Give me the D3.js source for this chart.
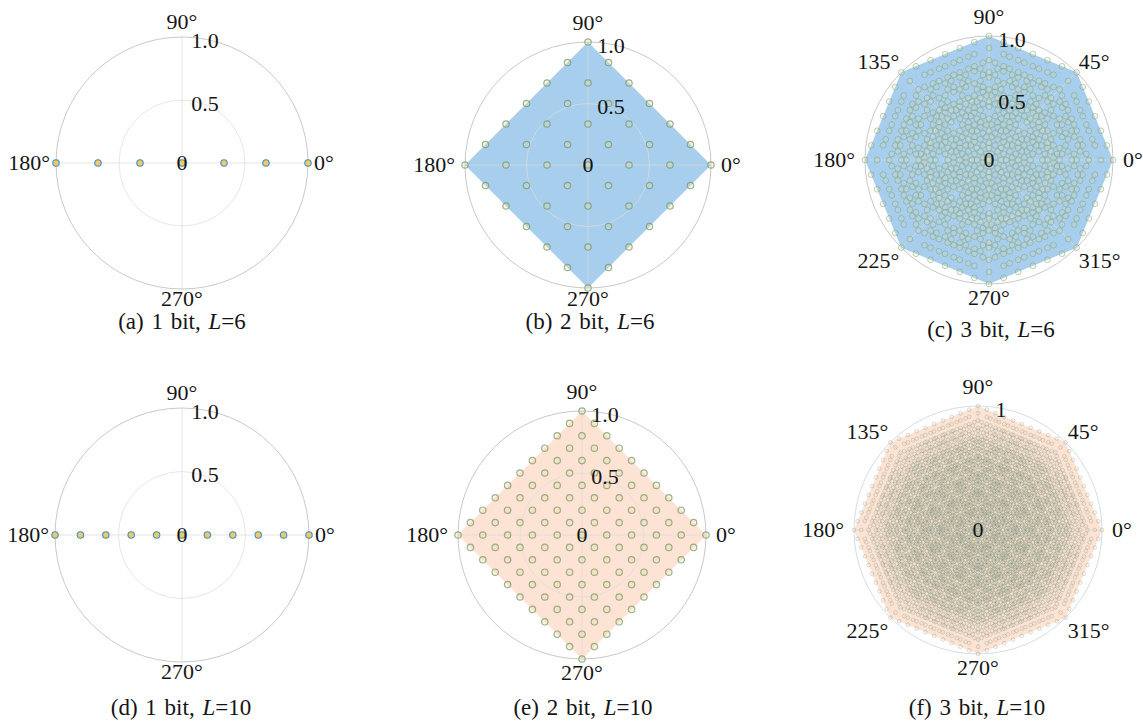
<!DOCTYPE html>
<html><head><meta charset="utf-8">
<script src="https://cdn.jsdelivr.net/npm/d3@7"></script>
<style>
body{margin:0;background:#fff;}
svg text{font-family:"Liberation Serif","Times New Roman",serif;fill:#151515;}
</style></head><body>
<svg id="chart" width="1143" height="724"></svg>
<script>
// Quantised phase alphabets (degrees) for each bit depth
const phases1bit = [0, 180];
const phases2bit = [0, 90, 180, 270];
const phases3bit = [0, 45, 90, 135, 180, 225, 270, 315];
const bitDepths = [1, 2, 3];
const blockLengths = [6, 10];

// Tick values and labels
const radialTicks = [0, 0.5, 1];
const radialTickLabels = ["0", "0.5", "1.0"];
const radialTicksSparse = [0, 1];
const radialTickLabelsSparse = ["0", "1"];
const angleTicks4 = [0, 90, 180, 270];
const angleTicks8 = [0, 45, 90, 135, 180, 225, 270, 315];
const panelTags = ["a", "b", "c", "d", "e", "f"];

const phaseSets = {1: phases1bit, 2: phases2bit, 3: phases3bit};

// Layout of the 2x3 grid of polar panels
const layout = [
  {cx: 182, cy: 163, R: 126, gap: 6,  gapB: 2, capX: 182, capY: 329},
  {cx: 588, cy: 165, R: 123, gap: 10, gapB: 3, capX: 590, capY: 329},
  {cx: 989, cy: 160, R: 124, gap: 10, gapB: 6, capX: 991, capY: 337},
  {cx: 182, cy: 535, R: 127, gap: 6,  gapB: 2, capX: 181, capY: 715},
  {cx: 582, cy: 535, R: 124, gap: 10, gapB: 6, capX: 583, capY: 715},
  {cx: 978, cy: 530, R: 124, gap: 10, gapB: 6, capX: 977, capY: 715}
];

const fillByLength = {6: "#a7cfed", 10: "#fce3d3"};
const tickFont = 22;
const capFont = 23;

// All distinct normalised sums of L unit phasors drawn from the alphabet
function constellation(phasesDeg, L) {
  const k = phasesDeg.length;
  const cosv = phasesDeg.map(d => Math.cos(d * Math.PI / 180));
  const sinv = phasesDeg.map(d => Math.sin(d * Math.PI / 180));
  const seen = new Map();
  const counts = new Array(k).fill(0);
  function add() {
    let re = 0, im = 0;
    for (let j = 0; j < k; j++) { re += counts[j] * cosv[j]; im += counts[j] * sinv[j]; }
    re /= L; im /= L;
    const key = Math.round(re * 1e6) + "," + Math.round(im * 1e6);
    if (!seen.has(key)) seen.set(key, [re, im]);
  }
  function rec(i, remaining) {
    if (i === k - 1) { counts[i] = remaining; add(); return; }
    for (let n = 0; n <= remaining; n++) { counts[i] = n; rec(i + 1, remaining - n); }
  }
  rec(0, L);
  return Array.from(seen.values());
}

const svg = d3.select("#chart");

let idx = 0;
blockLengths.forEach(L => {
  bitDepths.forEach(bits => {
    const lay = layout[idx];
    const tag = panelTags[idx];
    idx++;
    const {cx, cy, R, gap, gapB} = lay;
    const pts = constellation(phaseSets[bits], L);

    const x = d3.scaleLinear().domain([-1, 1]).range([cx - R, cx + R]);
    const y = d3.scaleLinear().domain([-1, 1]).range([cy + R, cy - R]);
    const r = d3.scaleLinear().domain([0, 1]).range([0, R]);

    const g = svg.append("g");
    const dense = bits === 3 && L === 10;
    const rTicks = dense ? radialTicksSparse : radialTicks;
    const rLabels = dense ? radialTickLabelsSparse : radialTickLabels;
    const aTicks = bits === 3 ? angleTicks8 : angleTicks4;

    // Achievable region (convex hull of the constellation)
    if (bits > 1) {
      const hull = d3.polygonHull(pts.map(p => [x(p[0]), y(p[1])]));
      g.append("path")
        .attr("d", "M" + hull.join("L") + "Z")
        .attr("fill", fillByLength[L]);
    }

    // Grid: spokes and rings
    aTicks.forEach(a => {
      const th = a * Math.PI / 180;
      g.append("line").attr("x1", cx).attr("y1", cy)
        .attr("x2", cx + r(1) * Math.cos(th)).attr("y2", cy - r(1) * Math.sin(th))
        .attr("stroke", "#dadada").attr("stroke-width", 0.9).attr("stroke-opacity", 0.8);
    });
    rTicks.filter(t => t > 0 && t < 1).forEach(t => {
      g.append("circle").attr("cx", cx).attr("cy", cy).attr("r", r(t))
        .attr("fill", "none").attr("stroke", "#dcdcdc").attr("stroke-width", 0.9).attr("stroke-opacity", 0.8);
    });
    g.append("circle").attr("cx", cx).attr("cy", cy).attr("r", r(1))
      .attr("fill", "none").attr("stroke", dense ? "#d6dde6" : "#c9c9c9").attr("stroke-width", 1);

    // Constellation points
    let mk;
    if (bits === 1) mk = {r: 3.2, fill: "#f7c85e", stroke: "#3f8fd0", sw: 1.1};
    else if (bits === 2) mk = {r: 3.2, fill: "rgba(225,225,150,0.3)", stroke: "rgba(120,145,110,0.7)", sw: 1.2};
    else if (!dense) mk = {r: 2.9, fill: "rgba(225,225,150,0.2)", stroke: "rgba(125,150,125,0.5)", sw: 0.9};
    else mk = {r: 1.9, fill: "rgba(205,215,180,0.15)", stroke: "rgba(108,126,112,0.32)", sw: 0.7};

    g.append("g").selectAll("circle").data(pts).join("circle")
      .attr("cx", d => x(d[0])).attr("cy", d => y(d[1])).attr("r", mk.r)
      .attr("fill", mk.fill).attr("stroke", mk.stroke).attr("stroke-width", mk.sw);

    // Angular tick labels, aligned outward from the rim
    const capH = 0.66 * tickFont;
    aTicks.forEach(a => {
      const th = a * Math.PI / 180, c = Math.cos(th), s = Math.sin(th);
      const anchor = c > 0.1 ? "start" : c < -0.1 ? "end" : "middle";
      let px, py;
      if (Math.abs(s) < 0.1) {
        px = cx + c * (R + gap); py = cy + capH / 2;
      } else if (Math.abs(c) < 0.1) {
        px = cx; py = s > 0 ? cy - R - gap - 2 : cy + R + gapB + capH;
      } else {
        px = cx + c * (R + 3); py = cy - s * (R + 3) + (s > 0 ? -1 : capH + 4);
      }
      g.append("text").attr("x", px).attr("y", py).attr("text-anchor", anchor)
        .style("font-size", tickFont + "px").text(a + "°");
    });

    // Radial tick labels
    rTicks.forEach((t, i) => {
      g.append("text")
        .attr("x", t === 0 ? cx : cx + 23).attr("y", t === 0 ? cy + capH / 2 : y(t) + 3.5 + capH / 2)
        .attr("text-anchor", "middle")
        .style("font-size", tickFont + "px").text(rLabels[i]);
    });

    // Sub-caption
    const cap = g.append("text").attr("x", lay.capX).attr("y", lay.capY)
      .attr("text-anchor", "middle").style("font-size", capFont + "px")
      .style("word-spacing", "2px");
    cap.append("tspan").text("(" + tag + ") " + bits + " bit, ");
    cap.append("tspan").style("font-style", "italic").text("L");
    cap.append("tspan").text("=" + L);
  });
});
</script>
</body></html>
